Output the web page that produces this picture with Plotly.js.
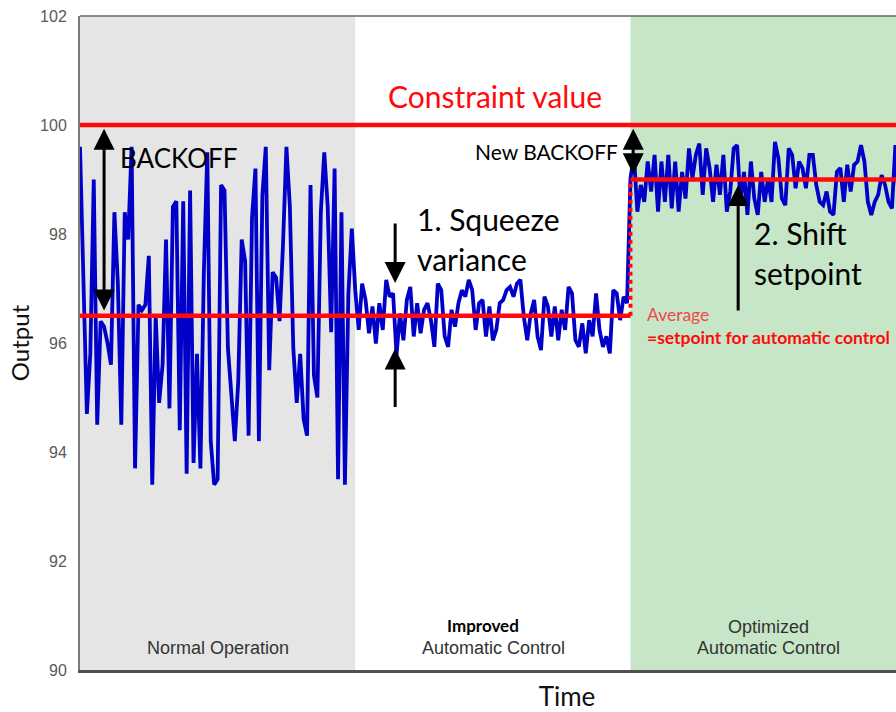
<!DOCTYPE html>
<html>
<head>
<meta charset="utf-8">
<script src="https://cdn.plot.ly/plotly-3.0.1.min.js"></script>
<style>html,body{margin:0;padding:0;background:#fff;overflow:hidden;width:896px;height:712px;}#chart{width:1054px;height:712px;}</style>
</head>
<body>
<div id="chart"></div>
<script>
// ---- data ----
const normalOperation = [
  99.6, 97.3, 94.7, 95.8, 99.0, 94.5, 96.4, 96.3, 96.0, 95.6,
  98.4, 97.1, 94.5, 98.4, 97.9, 99.6, 93.7, 96.7, 96.6, 96.7,
  97.6, 93.4, 96.5, 94.9, 95.6, 97.9, 94.8, 98.5, 98.6, 94.4,
  98.6, 93.6, 98.8, 93.8, 95.8, 93.7, 97.3, 99.5, 94.2, 93.4,
  93.5, 98.9, 98.8, 95.9, 95.0, 94.2, 95.3, 97.9, 97.5, 94.3,
  98.3, 99.2, 94.2, 98.7, 99.6, 95.5, 97.3, 97.2, 96.4, 97.8,
  99.6, 98.5, 95.9, 94.9, 95.8, 94.6, 94.3, 98.9, 95.4, 95.0,
  98.4, 99.5, 98.5, 96.2, 99.2, 93.5, 98.4, 93.4, 96.9, 98.1
];
const improvedControl = [
  96.97, 96.24, 97.09, 96.79, 96.18, 96.67, 95.99, 96.73, 96.24, 97.16,
  96.85, 96.91, 95.78, 96.54, 96.05, 96.79, 97.03, 96.12, 96.73, 96.18,
  96.61, 96.73, 96.42, 95.93, 97.09, 96.97, 96.12, 95.93, 96.61, 96.30,
  96.73, 96.97, 96.85, 97.16, 96.97, 96.24, 96.73, 96.79, 96.12, 96.67,
  96.05,
  96.24, 96.73, 96.79, 96.97, 97.03, 96.85, 97.09, 97.16, 96.48, 96.05,
  96.54, 96.79, 96.12, 95.87, 96.85, 96.67, 96.12, 96.67, 96.05, 96.61,
  96.24, 97.03, 96.91, 96.05, 95.93, 96.36, 95.81, 96.42, 96.12, 96.91,
  96.24, 95.93, 96.12, 95.81, 96.97, 96.91, 96.42, 96.85, 96.73
];
const optimizedControl = [
  99.02, 99.45, 98.41, 98.90, 98.59, 99.33, 98.78, 99.45, 98.41, 99.33,
  98.59, 99.45, 98.47, 99.33, 98.41, 99.14, 98.65, 99.57, 99.02, 99.45,
  99.66, 98.72, 99.57, 99.21, 98.59, 99.27, 98.72, 99.45, 98.41, 98.78,
  99.57, 99.63, 98.59, 99.14, 98.35, 99.33, 98.65, 98.35, 99.14, 98.59,
  99.02, 98.59, 99.69, 99.39, 98.65, 98.53, 99.57, 99.45, 98.84, 99.33,
  99.21, 98.84, 99.45, 99.45, 98.90, 98.59, 98.53, 98.78, 98.41, 98.35,
  99.14, 99.21, 98.59, 99.27, 98.78, 99.27, 99.33, 99.63, 99.33, 98.59,
  98.35, 98.59, 98.72, 99.08, 98.90, 98.59, 98.47, 99.63, 98.59
];
const constraintValue = 100;
const averageNormal = 96.5;
const setpointOptimized = 99;
const yTickValues = [90, 92, 94, 96, 98, 100, 102];
const phaseNames = ["Normal Operation", "Automatic Control", "Automatic Control"];

// ---- build series ----
const output = normalOperation.concat(improvedControl, optimizedControl);
const time = output.map((_, i) => i);
const n1 = normalOperation.length;
const n2 = n1 + improvedControl.length;

const RED = '#ff0a0a';
const trace = {
  x: time, y: output, type: 'scatter', mode: 'lines',
  line: {color: '#0000c8', width: 3.8}, hoverinfo: 'skip'
};

const calib = 'Lato, "Open Sans", sans-serif';
const arial = '"Liberation Sans", Arial, sans-serif';

function arrow(x, yHead, yTail, both) {
  const a = {
    x: x, y: yHead, ax: x, ay: yTail, xref: 'x', yref: 'y', axref: 'x', ayref: 'y',
    text: '', showarrow: true, arrowhead: 2, arrowsize: 1.4, arrowwidth: 3,
    arrowcolor: '#000', standoff: 0, startstandoff: 0
  };
  if (both) { a.arrowside = 'end+start'; a.startarrowhead = 2; a.startarrowsize = 1.4; }
  return a;
}

const layout = {
  width: 1054, height: 712,
  margin: {l: 80, r: 0, t: 16, b: 42},
  paper_bgcolor: '#fff', plot_bgcolor: '#fff',
  showlegend: false,
  xaxis: {
    range: [0, 283.1], showticklabels: false, showgrid: false, zeroline: false,
    showline: true, linecolor: '#505050', linewidth: 3, ticks: '',
    title: {text: 'Time', font: {family: calib, size: 26, color: '#111'}, standoff: 20}
  },
  yaxis: {
    range: [90, 102], tickvals: yTickValues, showgrid: false, zeroline: false,
    showline: true, linecolor: '#7a7a7a', linewidth: 2, ticks: '',
    ticklabelstandoff: 8,
    tickfont: {family: arial, size: 16, color: '#5a5a5a'},
    title: {text: 'Output', font: {family: calib, size: 24, color: '#111'}, standoff: 4}
  },
  shapes: [
    {type: 'rect', xref: 'x', yref: 'paper', x0: 0, x1: n1, y0: 0, y1: 1, fillcolor: '#e5e5e5', line: {width: 0}, layer: 'below'},
    {type: 'rect', xref: 'x', yref: 'paper', x0: n2, x1: 283.1, y0: 0, y1: 1, fillcolor: '#c7e6c7', line: {width: 0}, layer: 'below'},
    {type: 'line', xref: 'paper', yref: 'paper', x0: 0, x1: 1, y0: 1, y1: 1, line: {color: '#666', width: 1.5}},
    {type: 'line', xref: 'paper', yref: 'y', x0: 0, x1: 1, y0: constraintValue, y1: constraintValue, line: {color: RED, width: 4.5}},
    {type: 'line', xref: 'x', yref: 'y', x0: 0, x1: n2, y0: averageNormal, y1: averageNormal, line: {color: RED, width: 4.5}},
    {type: 'line', xref: 'x', yref: 'y', x0: n2, x1: 283.1, y0: setpointOptimized, y1: setpointOptimized, line: {color: RED, width: 4.5}},
    {type: 'line', xref: 'x', yref: 'y', x0: n2, x1: n2, y0: averageNormal, y1: setpointOptimized, line: {color: RED, width: 4, dash: 'dot'}}
  ],
  annotations: [
    {x: 120.6, y: 100.53, xref: 'x', yref: 'y', text: 'Constraint value', showarrow: false, font: {family: calib, size: 30, color: RED}},
    {x: 11.0, y: 99.39, xref: 'x', yref: 'y', xanchor: 'left', text: 'BACKOFF', showarrow: false, font: {family: calib, size: 26, color: '#000'}},
    {x: 114.2, y: 99.52, xref: 'x', yref: 'y', xanchor: 'left', text: 'New BACKOFF', showarrow: false, font: {family: calib, size: 21, color: '#000'}},
    {x: 97.4, y: 98.28, xref: 'x', yref: 'y', xanchor: 'left', text: '1. Squeeze', showarrow: false, font: {family: calib, size: 30, color: '#000'}},
    {x: 97.4, y: 97.54, xref: 'x', yref: 'y', xanchor: 'left', text: 'variance', showarrow: false, font: {family: calib, size: 30, color: '#000'}},
    {x: 195.3, y: 98.02, xref: 'x', yref: 'y', xanchor: 'left', text: '2. Shift', showarrow: false, font: {family: calib, size: 30, color: '#000'}},
    {x: 195.3, y: 97.28, xref: 'x', yref: 'y', xanchor: 'left', text: 'setpoint', showarrow: false, font: {family: calib, size: 30, color: '#000'}},
    {x: 164.2, y: 96.31, xref: 'x', yref: 'y', xanchor: 'left', align: 'left',
     text: '<span style="color:#f04848">Average</span><br><b>=setpoint for automatic control</b>',
     showarrow: false, font: {family: calib, size: 17.5, color: RED}},
    {x: 40.1, y: 90.40, xref: 'x', yref: 'y', text: phaseNames[0], showarrow: false, font: {family: arial, size: 18, color: '#333'}},
    {x: 117.2, y: 90.81, xref: 'x', yref: 'y', text: '<b>Improved</b>', showarrow: false, font: {family: calib, size: 17, color: '#000'}},
    {x: 120.1, y: 90.40, xref: 'x', yref: 'y', text: phaseNames[1], showarrow: false, font: {family: arial, size: 18, color: '#333'}},
    {x: 200, y: 90.79, xref: 'x', yref: 'y', text: 'Optimized', showarrow: false, font: {family: arial, size: 18, color: '#333'}},
    {x: 200, y: 90.40, xref: 'x', yref: 'y', text: phaseNames[2], showarrow: false, font: {family: arial, size: 18, color: '#333'}},
    arrow(7, 99.93, 96.57, true),
    arrow(160.8, 99.93, 99.07, true),
    arrow(91.6, 97.1, 98.22, false),
    arrow(91.6, 95.9, 94.8, false),
    arrow(191.3, 98.9, 96.57, false)
  ]
};

Plotly.newPlot('chart', [trace], layout, {staticPlot: true, displayModeBar: false});
</script>
</body>
</html>
